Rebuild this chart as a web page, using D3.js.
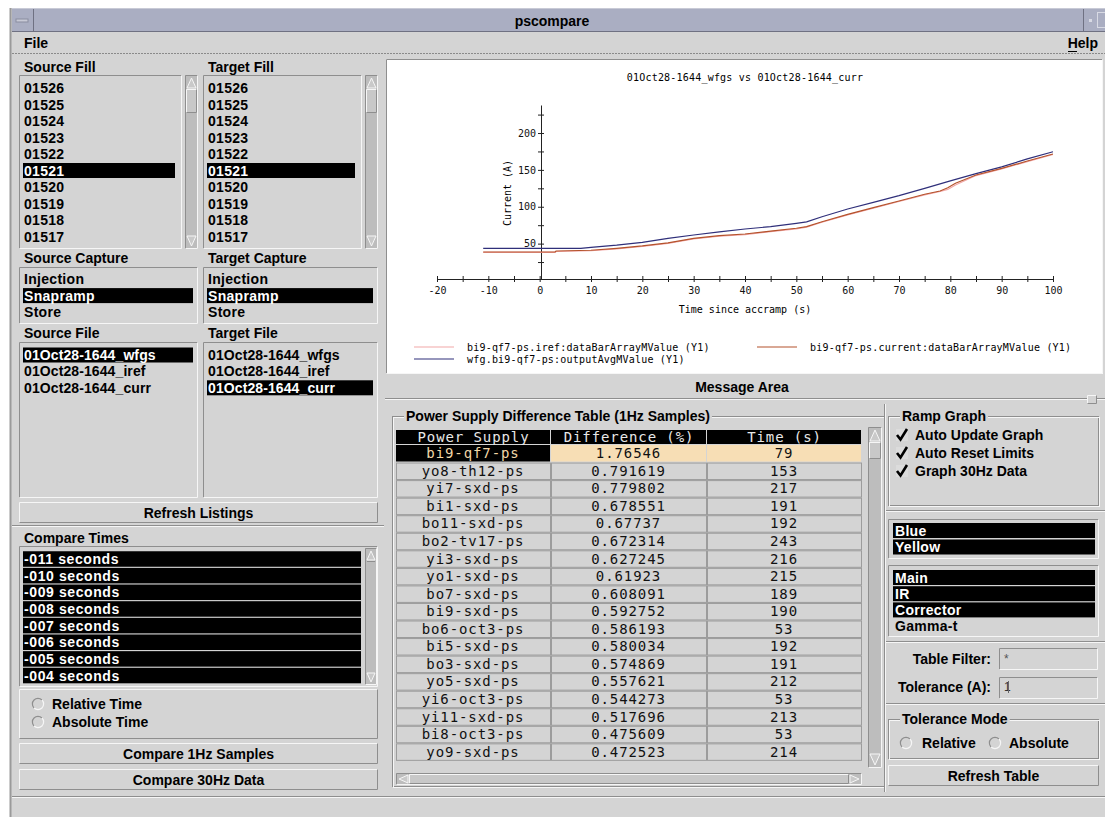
<!DOCTYPE html>
<html lang="en">
<head>
<meta charset="UTF-8" />
<title>pscompare</title>
<script src="https://cdn.jsdelivr.net/npm/d3@7"></script>
<style>
  body { margin: 0; background: #fff; overflow: hidden; }
</style>
</head>
<body>
<div id="app"></div>
<script>
// ---------- data ----------
const fills = ["01526", "01525", "01524", "01523", "01522", "01521", "01520", "01519", "01518", "01517"];
const selectedFill = ["01521"];
const captures = ["Injection", "Snapramp", "Store"];
const selectedCapture = ["Snapramp"];
const files = ["01Oct28-1644_wfgs", "01Oct28-1644_iref", "01Oct28-1644_curr"];
const sourceFileSel = ["01Oct28-1644_wfgs"];
const targetFileSel = ["01Oct28-1644_curr"];
const compareTimes = ["-011 seconds", "-010 seconds", "-009 seconds", "-008 seconds",
                      "-007 seconds", "-006 seconds", "-005 seconds", "-004 seconds"];
const rings = ["Blue", "Yellow"];
const psTypes = ["Main", "IR", "Corrector", "Gamma-t"];
const psTypesSel = ["Main", "IR", "Corrector"];

const tableHeaders = ["Power Supply", "Difference (%)", "Time (s)"];
const supplies = ["bi9-qf7-ps", "yo8-th12-ps", "yi7-sxd-ps", "bi1-sxd-ps", "bo11-sxd-ps", "bo2-tv17-ps",
                  "yi3-sxd-ps", "yo1-sxd-ps", "bo7-sxd-ps", "bi9-sxd-ps", "bo6-oct3-ps", "bi5-sxd-ps",
                  "bo3-sxd-ps", "yo5-sxd-ps", "yi6-oct3-ps", "yi11-sxd-ps", "bi8-oct3-ps", "yo9-sxd-ps"];
const differences = ["1.76546", "0.791619", "0.779802", "0.678551", "0.67737", "0.672314",
                     "0.627245", "0.61923", "0.608091", "0.592752", "0.586193", "0.580034",
                     "0.574869", "0.557621", "0.544273", "0.517696", "0.475609", "0.472523"];
const diffTimes = [79, 153, 217, 191, 192, 243, 216, 215, 189, 190, 53, 192, 191, 212, 53, 213, 53, 214];

const chartTitle = "01Oct28-1644_wfgs vs 01Oct28-1644_curr";
const xTicks = [-20, -15, -10, -5, 0, 5, 10, 15, 20, 25, 30, 35, 40, 45, 50, 55, 60, 65, 70, 75, 80, 85, 90, 95, 100];
const yTicks = [25, 50, 75, 100, 125, 150, 175, 200, 225];

// ramp curves (time s, current A)
const wfgT = [-11, 8, 10, 15, 20, 25, 30, 35, 40, 45, 50, 52, 55, 60, 65, 70, 75, 80, 85, 90, 95, 100];
const wfgA = [43.6, 43.6, 45, 48, 51.8, 57, 61.7, 66, 69.8, 73, 77.5, 79.5, 86.5, 97, 106, 115, 125, 135, 145, 154, 165, 174.6];
const currT = [-11, 3, 3.2, 10, 15, 20, 25, 30, 35, 40, 45, 50, 52, 55, 60, 65, 70, 75, 78, 79.5, 81, 85, 90, 95, 100];
const currA = [38.6, 38.6, 40, 41, 43.6, 46.8, 51, 57, 60.7, 63, 67, 70.8, 73, 79.7, 89.7, 98.7, 107.8, 116.9, 121.4, 125.8, 131.8, 143, 152, 162, 171.5];
const irefA = [38, 38, 39.3, 40.3, 42.9, 46.1, 50.3, 56.3, 60, 62.3, 66.3, 70.1, 72.3, 79, 89, 98, 107.1, 116.2, 120.7, 123.5, 129.5, 142.3, 151.3, 161.3, 170.8];

const legendItems = [
  { name: "bi9-qf7-ps.iref:dataBarArrayMValue (Y1)", color: "#f2a7a7" },
  { name: "wfg.bi9-qf7-ps:outputAvgMValue (Y1)", color: "#2f2f7a" },
  { name: "bi9-qf7-ps.current:dataBarArrayMValue (Y1)", color: "#b4532c" }
];

// ---------- helpers ----------
const W = 1105, H = 817;
const bg = "#d4d4d4", dark = "#8e8e8e", light = "#f6f6f6";
const ui = "'Liberation Sans', Arial, Helvetica, sans-serif";
const mono = "'DejaVu Sans Mono', monospace";

const svg = d3.select("#app").append("svg").attr("width", W).attr("height", H);
svg.append("rect").attr("width", W).attr("height", H).attr("fill", "#fff");
svg.append("rect").attr("x", 10).attr("y", 8).attr("width", W - 10).attr("height", H - 8).attr("fill", bg);
svg.append("line").attr("x1", 10.5).attr("x2", 10.5).attr("y1", 8).attr("y2", H).attr("stroke", "#9a9a9a").attr("stroke-width", 2);

function txt(x, y, s, o = {}) {
  return svg.append("text").attr("x", x).attr("y", y).attr("dy", "0.36em")
    .attr("font-family", o.font || ui).attr("font-size", o.size || 14)
    .attr("font-weight", o.weight || "bold").attr("fill", o.fill || "#000")
    .attr("text-anchor", o.anchor || "start")
    .attr("letter-spacing", o.ls || 0)
    .text(s);
}

function bevel(x, y, w, h, sunken, fill) {
  const g = svg.append("g");
  g.append("rect").attr("x", x).attr("y", y).attr("width", w).attr("height", h).attr("fill", fill || bg);
  g.append("path").attr("d", `M${x + 0.5},${y + h - 0.5}V${y + 0.5}H${x + w - 0.5}`)
    .attr("stroke", sunken ? dark : light).attr("fill", "none");
  g.append("path").attr("d", `M${x + w - 0.5},${y + 0.5}V${y + h - 0.5}H${x + 0.5}`)
    .attr("stroke", sunken ? light : dark).attr("fill", "none");
  return g;
}

function hline(x1, x2, y) {
  svg.append("line").attr("x1", x1).attr("x2", x2).attr("y1", y + 0.5).attr("y2", y + 0.5).attr("stroke", dark);
  svg.append("line").attr("x1", x1).attr("x2", x2).attr("y1", y + 1.5).attr("y2", y + 1.5).attr("stroke", light);
}

function group(x, y, w, h, title) {
  svg.append("rect").attr("x", x + 0.5).attr("y", y + 0.5).attr("width", w).attr("height", h)
    .attr("fill", "none").attr("stroke", dark);
  svg.append("rect").attr("x", x + 1.5).attr("y", y + 1.5).attr("width", w).attr("height", h)
    .attr("fill", "none").attr("stroke", light);
  const t = txt(x + 14, y, title);
  const bb = t.node().getBBox();
  svg.insert("rect", () => t.node()).attr("x", bb.x - 2).attr("y", y - 3).attr("width", bb.width + 4)
    .attr("height", 6).attr("fill", bg);
}

function button(x, y, w, h, label) {
  bevel(x, y, w, h, false);
  txt(x + w / 2, y + h / 2, label, { anchor: "middle" });
}

function vscroll(x, y, w, h, thumbEnd) {
  bevel(x, y, w, h, true, "#bdbdbd");
  const cx = x + w / 2;
  svg.append("path").attr("d", `M${cx},${y + 3}L${x + 2},${y + w}L${x + w - 2},${y + w}Z`)
    .attr("fill", "#c9c9c9").attr("stroke", light);
  svg.append("path").attr("d", `M${cx},${y + h - 3}L${x + 2},${y + h - w}L${x + w - 2},${y + h - w}Z`)
    .attr("fill", "#c9c9c9").attr("stroke", light);
  if (thumbEnd) bevel(x + 1, y + w + 1, w - 2, thumbEnd - (y + w + 1), false, "#c8c8c8");
}

function hscroll(x, y, w, h) {
  bevel(x, y, w, h, true, "#bdbdbd");
  const cy = y + h / 2;
  svg.append("path").attr("d", `M${x + 3},${cy}L${x + h},${y + 2}L${x + h},${y + h - 2}Z`)
    .attr("fill", "#c9c9c9").attr("stroke", light);
  svg.append("path").attr("d", `M${x + w - 3},${cy}L${x + w - h},${y + 2}L${x + w - h},${y + h - 2}Z`)
    .attr("fill", "#c9c9c9").attr("stroke", light);
  bevel(x + h + 1, y + 1, w - 2 * h - 2, h - 2, false, "#c8c8c8");
}

// rows of a list box, selected ones drawn black
function listRows(items, selected, x, y0, step, hx0, hx1, o = {}) {
  const g = svg.append("g");
  const hh = o.hh || 15;
  g.selectAll("rect").data(items).join("rect")
    .attr("x", hx0).attr("y", (d, i) => y0 + i * step - hh / 2)
    .attr("width", hx1 - hx0).attr("height", hh)
    .attr("fill", d => selected.includes(d) ? "#000" : "none");
  g.selectAll("text").data(items).join("text")
    .attr("x", x).attr("y", (d, i) => y0 + i * step).attr("dy", "0.36em")
    .attr("font-family", ui).attr("font-size", 14).attr("font-weight", "bold")
    .attr("letter-spacing", o.ls || 0.3)
    .attr("fill", d => selected.includes(d) ? "#fff" : "#000")
    .text(d => d);
}

function radio(cx, cy) {
  svg.append("path").attr("d", d3.arc()({ innerRadius: 5, outerRadius: 6.2, startAngle: Math.PI, endAngle: 2 * Math.PI }))
    .attr("transform", `translate(${cx},${cy}) rotate(45)`).attr("fill", dark);
  svg.append("path").attr("d", d3.arc()({ innerRadius: 5, outerRadius: 6.2, startAngle: 0, endAngle: Math.PI }))
    .attr("transform", `translate(${cx},${cy}) rotate(45)`).attr("fill", light);
}

function check(x, y) {
  svg.append("rect").attr("x", x - 1).attr("y", y - 6).attr("width", 12).attr("height", 12).attr("fill", "#dcdcdc");
  svg.append("path").attr("d", `M${x},${y}L${x + 3.5},${y + 4.5}L${x + 10},${y - 6}`)
    .attr("fill", "none").attr("stroke", "#000").attr("stroke-width", 2.6);
}

// ---------- window frame ----------
svg.append("rect").attr("x", 12).attr("y", 8).attr("width", W - 12).attr("height", 23).attr("fill", "#aaaec2");
svg.append("line").attr("x1", 12).attr("x2", W).attr("y1", 8.5).attr("y2", 8.5).attr("stroke", "#c8cad6");
svg.append("line").attr("x1", 12).attr("x2", W).attr("y1", 31.5).attr("y2", 31.5).attr("stroke", "#6f7182");
svg.append("line").attr("x1", 33.5).attr("x2", 33.5).attr("y1", 9).attr("y2", 31).attr("stroke", "#6f7182");
svg.append("rect").attr("x", 16).attr("y", 19).attr("width", 12).attr("height", 3).attr("fill", "#c8cad6").attr("stroke", "#8a8da0");
svg.append("line").attr("x1", 1083.5).attr("x2", 1083.5).attr("y1", 9).attr("y2", 31).attr("stroke", "#6f7182");
svg.append("rect").attr("x", 1089).attr("y", 19).attr("width", 3).attr("height", 3).attr("fill", "#d8dae4");
svg.append("rect").attr("x", 1097.5).attr("y", 12.5).attr("width", 10).attr("height", 15).attr("fill", "none").attr("stroke", "#d8dae4");
txt(552, 21, "pscompare", { anchor: "middle" });

// menu bar
txt(24, 43, "File");
txt(1098, 43, "Help", { anchor: "end" });
svg.append("line").attr("x1", 1068).attr("x2", 1077).attr("y1", 51.5).attr("y2", 51.5).attr("stroke", "#000");
svg.append("line").attr("x1", 12).attr("x2", W).attr("y1", 53.5).attr("y2", 53.5)
  .attr("stroke", "#8a8a8a").attr("stroke-dasharray", "2,1");

// ---------- left column ----------
txt(24, 67, "Source Fill");
txt(208, 67, "Target Fill");
bevel(19, 75, 163, 174, true);
vscroll(185, 75, 13, 174, 113);
listRows(fills, selectedFill, 24, 88, 16.5, 23, 175);
bevel(203, 75, 159, 174, true);
vscroll(365, 75, 13, 174, 113);
listRows(fills, selectedFill, 208, 88, 16.5, 207, 355);

txt(24, 258, "Source Capture");
txt(208, 258, "Target Capture");
bevel(19, 267, 179, 57, true);
listRows(captures, selectedCapture, 24, 279, 16.6, 23, 193);
bevel(203, 267, 175, 57, true);
listRows(captures, selectedCapture, 208, 279, 16.6, 207, 373);

txt(24, 333, "Source File");
txt(208, 333, "Target File");
bevel(19, 342, 179, 156, true);
listRows(files, sourceFileSel, 24, 355, 16.4, 23, 193, { ls: 0.1 });
bevel(203, 342, 175, 156, true);
listRows(files, targetFileSel, 208, 355, 16.4, 207, 373, { ls: 0.1 });

button(19, 502, 359, 21, "Refresh Listings");
hline(12, 384, 525);

txt(24, 538, "Compare Times");
bevel(19, 546, 359, 141, true);
vscroll(365, 548, 12, 137, 562);
listRows(compareTimes, compareTimes, 24, 559, 16.65, 23, 361, { hh: 15.5, ls: 0.6 });

bevel(19, 689, 359, 50, false);
radio(38, 704); txt(52, 704, "Relative Time");
radio(38, 722); txt(52, 722, "Absolute Time");

button(19, 743, 359, 21, "Compare 1Hz Samples");
button(19, 769, 359, 21, "Compare 30Hz Data");
hline(12, W, 796);

// ---------- ramp graph ----------
bevel(386, 59, 717, 315, true, "#fff");

const xScale = d3.scaleLinear().domain([-20, 100]).range([437, 1053]);
const yScale = d3.scaleLinear().domain([2, 238]).range([279, 105]);

const chart = svg.append("g").attr("font-family", mono).attr("font-size", 10);
chart.append("text").attr("x", 745).attr("y", 77).attr("dy", "0.36em").attr("text-anchor", "middle")
  .attr("letter-spacing", 0.2).text(chartTitle);

const xAxis = chart.append("g").attr("transform", "translate(0,279)")
  .call(d3.axisBottom(xScale).tickValues(xTicks).tickSize(4).tickSizeOuter(0)
    .tickFormat(d => d % 10 === 0 ? d : ""));
xAxis.selectAll(".tick line").attr("y1", -3).attr("y2", 3);
xAxis.selectAll(".tick text").attr("y", 8);

const yAxis = chart.append("g").attr("transform", "translate(541,0)")
  .call(d3.axisLeft(yScale).tickValues(yTicks).tickSize(4).tickSizeOuter(0)
    .tickFormat(d => d % 50 === 0 ? d : ""));
yAxis.selectAll(".tick line").attr("x1", -3).attr("x2", 3);
yAxis.selectAll(".tick text").attr("x", -5);

[xAxis, yAxis].forEach(a => {
  a.attr("font-family", mono).attr("font-size", 10);
  a.selectAll("path, line").attr("stroke", "#222");
  a.selectAll("text").attr("fill", "#111");
});

chart.append("text").attr("transform", "translate(507,193) rotate(-90)").attr("dy", "0.36em")
  .attr("text-anchor", "middle").text("Current (A)");
chart.append("text").attr("x", 745).attr("y", 309).attr("dy", "0.36em")
  .attr("text-anchor", "middle").text("Time since accramp (s)");

const line = d3.line().x(d => xScale(d[0])).y(d => yScale(d[1]));
chart.append("path").datum(d3.zip(currT, irefA)).attr("d", line)
  .attr("fill", "none").attr("stroke", legendItems[0].color).attr("stroke-width", 1.2);
chart.append("path").datum(d3.zip(wfgT, wfgA)).attr("d", line)
  .attr("fill", "none").attr("stroke", legendItems[1].color).attr("stroke-width", 1.2);
chart.append("path").datum(d3.zip(currT, currA)).attr("d", line)
  .attr("fill", "none").attr("stroke", legendItems[2].color).attr("stroke-width", 1.2);

// legend
const legendPos = [[414, 347], [414, 359], [757, 347]];
const leg = chart.selectAll(".legend").data(legendItems).join("g")
  .attr("transform", (d, i) => `translate(${legendPos[i][0]},${legendPos[i][1]})`);
leg.append("line").attr("x1", 0).attr("x2", 40).attr("stroke", d => d.color).attr("stroke-width", 1.2);
leg.append("text").attr("x", 53).attr("dy", "0.36em").attr("letter-spacing", 0.2).text(d => d.name);

// ---------- message area ----------
txt(742, 387, "Message Area", { anchor: "middle" });
hline(385, 1088, 398);
bevel(1087, 395, 10, 9, false);
hline(1097, W, 398);

// ---------- difference table ----------
group(392, 416, 492, 370, "Power Supply Difference Table (1Hz Samples)");
const colX = [396, 551, 707, 862];
const rowY0 = 445, rowStep = 17.55, rowH = 16.5;

const tbl = svg.append("g").attr("font-family", mono).attr("font-size", 14).attr("letter-spacing", 0.9);
tbl.selectAll(".hdr").data(tableHeaders).join("rect")
  .attr("x", (d, i) => colX[i]).attr("y", 430).attr("width", (d, i) => colX[i + 1] - colX[i] - 1)
  .attr("height", 14).attr("fill", "#000");
tbl.selectAll(".hdrt").data(tableHeaders).join("text")
  .attr("x", (d, i) => (colX[i] + colX[i + 1]) / 2).attr("y", 437).attr("dy", "0.36em")
  .attr("text-anchor", "middle").attr("fill", "#e8e8e8").text(d => d);

const rows = supplies.map((s, i) => [s, differences[i], String(diffTimes[i])]);
rows.forEach((r, i) => {
  const y = rowY0 + i * rowStep;
  r.forEach((v, j) => {
    const fill = i === 0 ? (j === 0 ? "#000" : "#f7deb5") : bg;
    const x = colX[j], w = colX[j + 1] - colX[j] - 1;
    if (i === 0) {
      tbl.append("rect").attr("x", x).attr("y", y).attr("width", w).attr("height", rowH).attr("fill", fill);
    } else {
      tbl.append("rect").attr("x", x + 0.5).attr("y", y + 0.5).attr("width", w).attr("height", rowH)
        .attr("fill", fill).attr("stroke", "#9c9c9c");
    }
    tbl.append("text").attr("x", x + w / 2).attr("y", y + rowH / 2).attr("dy", "0.36em")
      .attr("text-anchor", "middle")
      .attr("fill", i === 0 && j === 0 ? "#f2d7a8" : "#111").text(v);
  });
});
vscroll(868, 427, 14, 341, 459);
hscroll(396, 773, 466, 12);
svg.append("line").attr("x1", 884.5).attr("x2", 884.5).attr("y1", 404).attr("y2", 792).attr("stroke", dark);
svg.append("line").attr("x1", 885.5).attr("x2", 885.5).attr("y1", 404).attr("y2", 792).attr("stroke", light);

// ---------- right controls ----------
group(888, 416, 210, 89, "Ramp Graph");
check(897, 435); txt(915, 435, "Auto Update Graph");
check(897, 453); txt(915, 453, "Auto Reset Limits");
check(897, 471); txt(915, 471, "Graph 30Hz Data");
hline(886, W, 510);

bevel(888, 519, 211, 40, true);
listRows(rings, rings, 895, 530.5, 16.5, 893, 1095);
bevel(888, 565, 211, 72, true);
listRows(psTypes, psTypesSel, 895, 577.5, 16.2, 893, 1095);
hline(886, W, 641);

txt(991, 659, "Table Filter:", { anchor: "end" });
bevel(999, 648, 99, 22, true);
txt(1004, 659, "*", { weight: "normal", size: 12, fill: "#555" });
txt(991, 687, "Tolerance (A):", { anchor: "end" });
bevel(999, 677, 99, 22, true);
txt(1004, 687, "1", { weight: "normal", size: 12, fill: "#333" });
svg.append("line").attr("x1", 1008.5).attr("x2", 1008.5).attr("y1", 681).attr("y2", 693).attr("stroke", "#666");
hline(886, W, 703);

group(888, 719, 210, 39, "Tolerance Mode");
radio(906, 743); txt(922, 743, "Relative");
radio(995, 743); txt(1009, 743, "Absolute");
button(888, 765, 211, 21, "Refresh Table");
</script>
</body>
</html>
